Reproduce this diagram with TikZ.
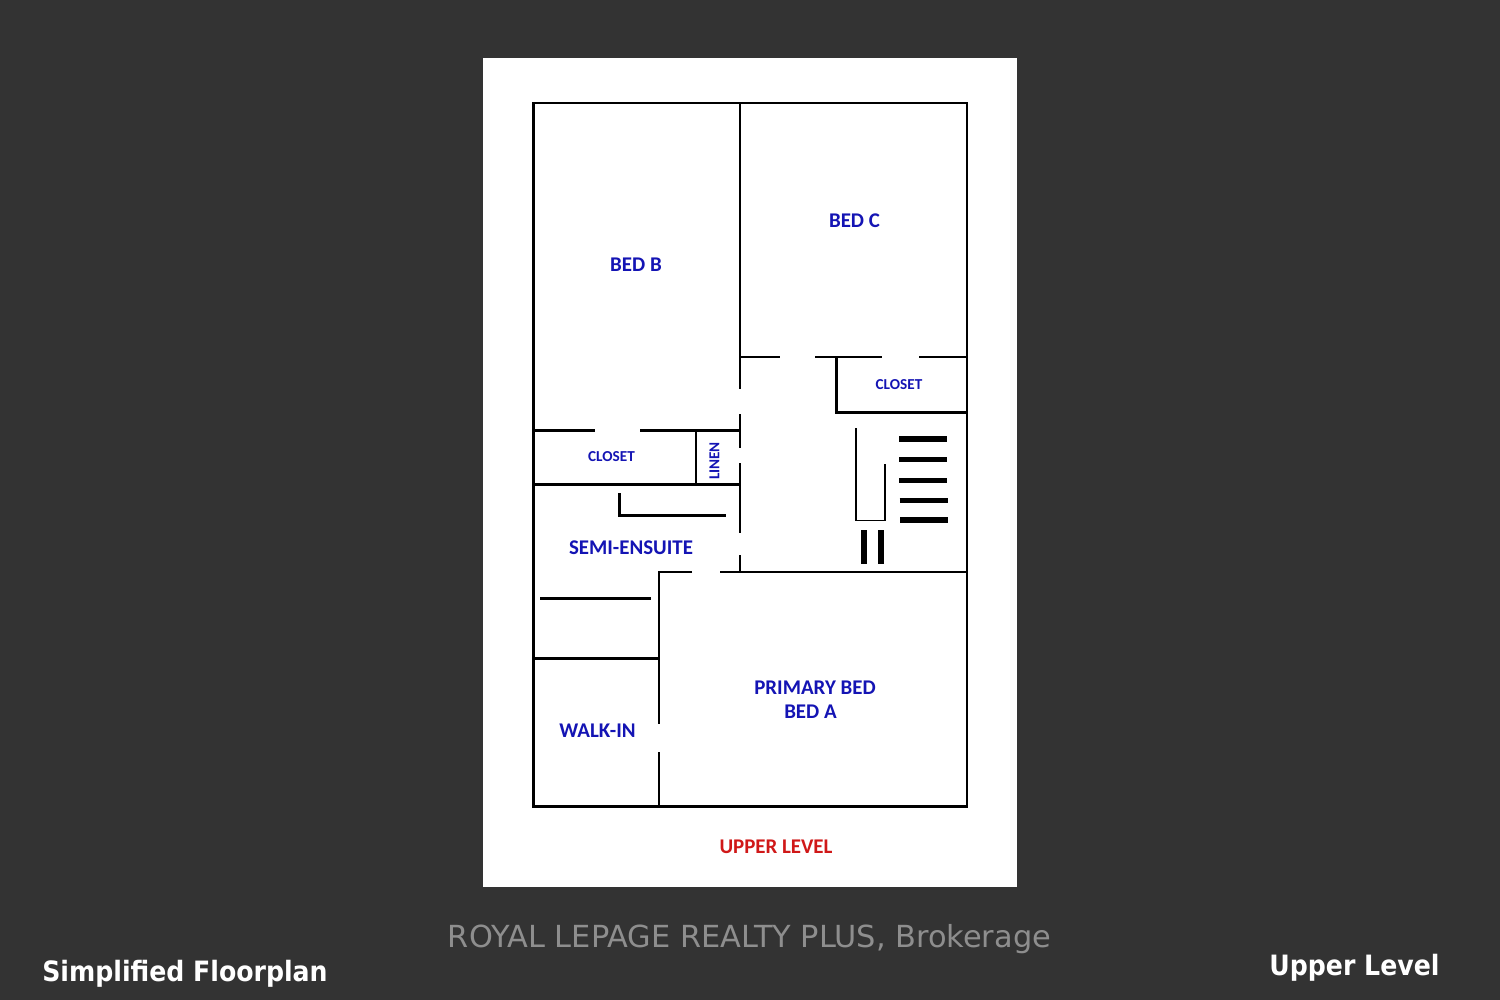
\documentclass[tikz,border=0pt]{standalone}
\usepackage{fontspec}
\setmainfont{Carlito}
\newfontfamily\dejavu{DejaVu Sans}
\newfontfamily\dejavucond{DejaVu Sans Condensed}
\definecolor{bgdark}{HTML}{333333}
\definecolor{labelblue}{HTML}{1414B4}
\definecolor{labelred}{HTML}{D01818}
\definecolor{credit}{HTML}{8E8E8E}
\tikzset{
  wall/.style={draw=black,line width=1.2pt,line cap=butt,line join=miter},
  thin wall/.style={draw=black,line width=0.8pt,line join=miter},
  tread/.style={draw=black,line width=2.8pt},
  room/.style={text=labelblue,font=\fontsize{10.45}{12}\selectfont\bfseries,inner sep=0pt,anchor=center},
  small room/.style={text=labelblue,font=\fontsize{7.6}{9}\selectfont\bfseries,inner sep=0pt,anchor=center},
  caption/.style={text=white,font=\dejavucond\fontsize{14}{16}\selectfont\bfseries,inner sep=0pt,anchor=center}
}
\begin{document}
\begin{tikzpicture}[x=0.5pt,y=-0.5pt]
\useasboundingbox (0,0) rectangle (1500,1000);
\fill[bgdark] (0,0) rectangle (1500,1000);
\fill[white] (483,58) rectangle (1016.5,887);
% outer walls
\draw[wall] (533.5,103) rectangle (967,806.5);
% central wall
\draw[wall] (740,103) -- (740,389);
\draw[wall] (740,414) -- (740,448);
\draw[wall] (740,463) -- (740,533);
\draw[wall] (740,555) -- (740,572);
% bed C wall and closet
\draw[wall] (740,357) -- (780,357);
\draw[wall] (815,357) -- (882,357);
\draw[wall] (919,357) -- (967,357);
\draw[wall] (836.5,357) -- (836.5,412.5) -- (967,412.5);
% closet and linen
\draw[wall] (533.5,430.5) -- (595,430.5);
\draw[wall] (640,430.5) -- (740,430.5);
\draw[wall] (696,430.5) -- (696,484.5);
\draw[wall] (533.5,484.5) -- (740,484.5);
% semi-ensuite
\draw[wall] (619.5,493) -- (619.5,515.5) -- (725.5,515.5);
\draw[wall] (540,598.5) -- (651,598.5);
\draw[wall] (533.5,658.5) -- (659,658.5);
% primary bed
\draw[wall] (692,572) -- (659,572) -- (659,724);
\draw[wall] (659,752) -- (659,806.5);
\draw[wall] (720,572) -- (967,572);
% stairs
\draw[thin wall] (856,428) -- (856,520.5) -- (885,520.5) -- (885,464);
\draw[tread] (899,439) -- (947,439);
\draw[tread] (899,459.5) -- (947,459.5);
\draw[tread] (899,480.5) -- (947,480.5);
\draw[tread] (899.5,500.5) -- (947.5,500.5);
\draw[tread] (900,520) -- (948,520);
\draw[tread] (864,530) -- (864,563.5);
\draw[tread] (881,530) -- (881,563.5);
% labels
\node[room] (bedb) at (636,265) {BED B};
\node[room] (bedc) at (854.5,221) {BED C};
\node[small room] (closetc) at (899,385) {CLOSET};
\node[small room] (closetb) at (611.5,456.5) {CLOSET};
\node[small room,rotate=90] (linen) at (714.5,461) {LINEN};
\node[room] (semi) at (631,548) {SEMI-ENSUITE};
\node[room] (primary) at (815,687.5) {PRIMARY BED};
\node[room] (beda) at (810.5,712) {BED A};
\node[room] (walkin) at (597.5,731) {WALK-IN};
\node[room,text=labelred] (upper) at (776,846.5) {UPPER LEVEL};
% captions
\node[text=credit,font=\dejavu\fontsize{15.2}{18}\selectfont,inner sep=0pt] (credit) at (749.5,939) {ROYAL LEPAGE REALTY PLUS, Brokerage};
\node[caption] (simp) at (185,973.5) {Simplified Floorplan};
\node[caption] (lev) at (1354.5,967.5) {Upper Level};
\end{tikzpicture}
\end{document}
